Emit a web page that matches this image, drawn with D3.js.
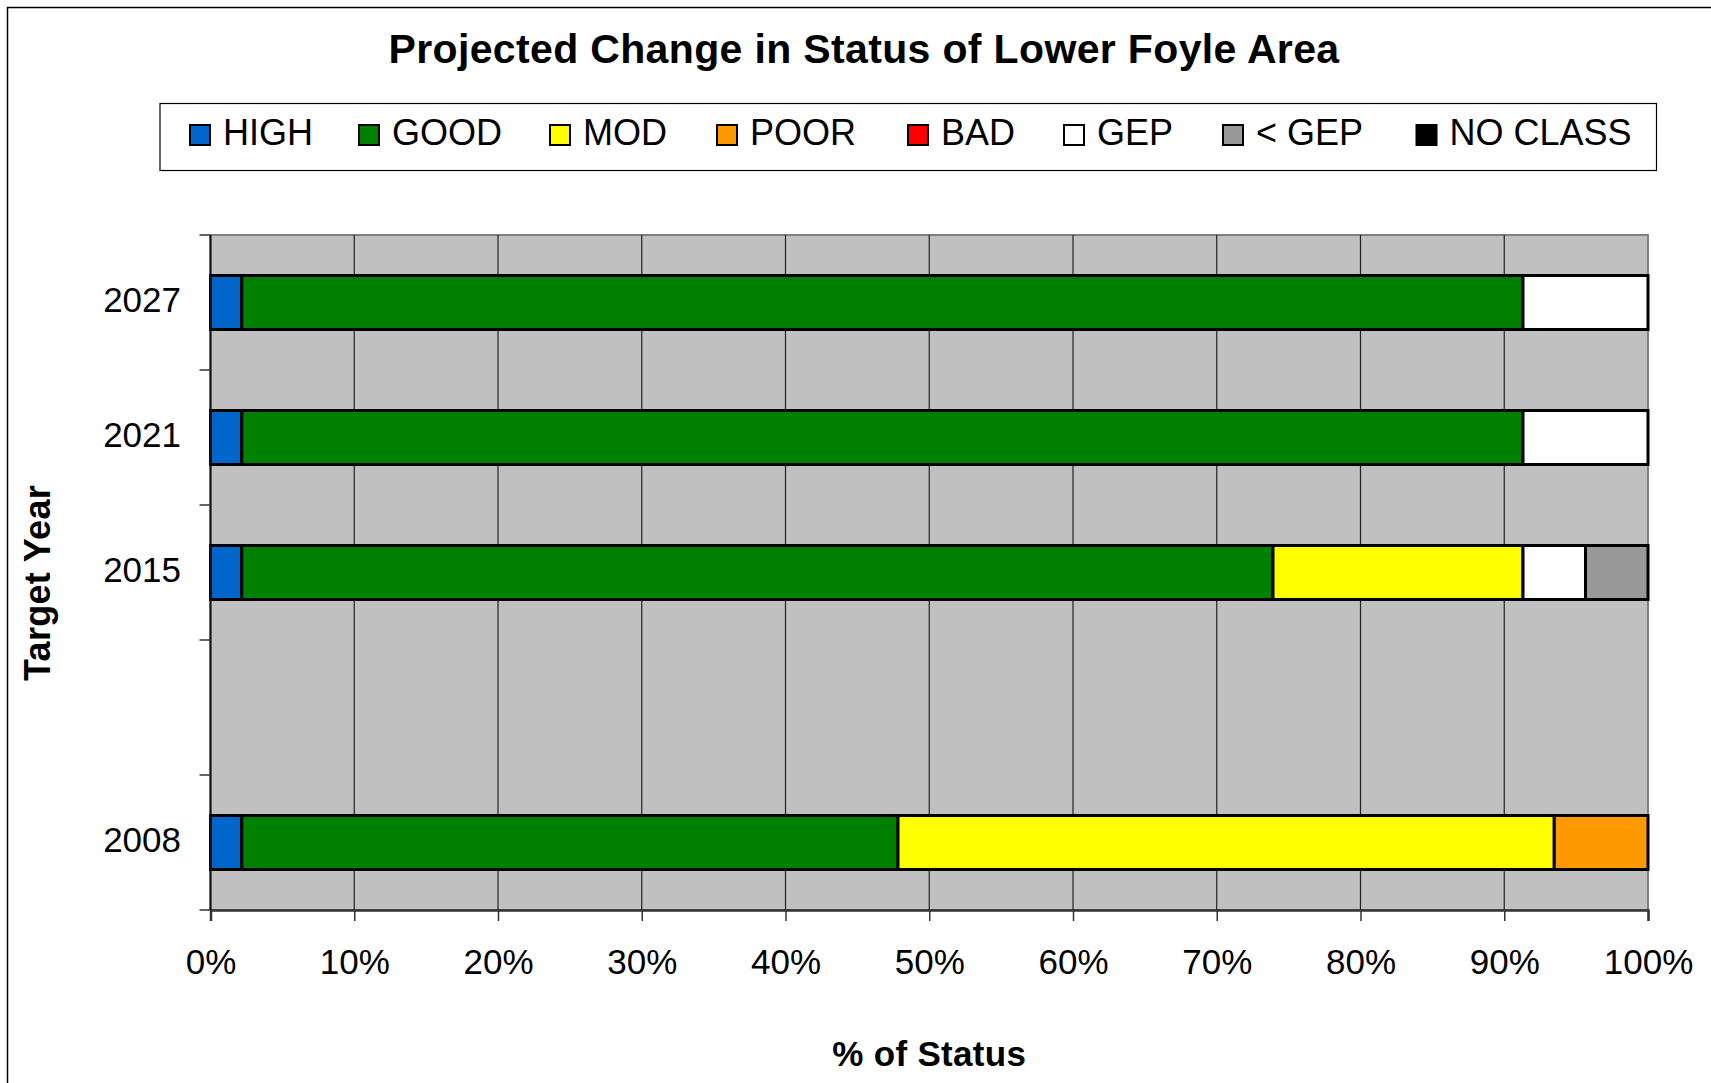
<!DOCTYPE html>
<html>
<head>
<meta charset="utf-8">
<script src="https://cdn.jsdelivr.net/npm/d3@7"></script>
<style>
  body { margin: 0; background: #fff; }
  text { font-family: "Liberation Sans", Arial, sans-serif; }
</style>
</head>
<body>
<svg id="chart" width="1711" height="1083"></svg>
<script>
// --- Data (number of water bodies per status, 100% stacked) ---
const years = ["2008", "", "2015", "2021", "2027"];
const statuses = ["HIGH", "GOOD", "MOD", "POOR", "BAD", "GEP", "< GEP", "NO CLASS"];
const colors = ["#0066cc", "#008000", "#ffff00", "#ff9900", "#ff0000", "#ffffff", "#999999", "#000000"];

const high    = [1, 0, 1, 1, 1];
const good    = [21, 0, 33, 41, 41];
const mod     = [21, 0, 8, 0, 0];
const poor    = [3, 0, 0, 0, 0];
const bad     = [0, 0, 0, 0, 0];
const gep     = [0, 0, 2, 4, 4];
const ltGep   = [0, 0, 2, 0, 0];
const noClass = [0, 0, 0, 0, 0];

const xTicks = [0, 0.1, 0.2, 0.3, 0.4, 0.5, 0.6, 0.7, 0.8, 0.9, 1];

// legend item x positions (layout)
const legendX = [190, 359, 550, 717, 908, 1064, 1223, 1416.5];

// build rows for d3.stack
const series = [high, good, mod, poor, bad, gep, ltGep, noClass];
const rows = years.map((y, i) => {
  const r = { year: y };
  statuses.forEach((s, j) => r[s] = series[j][i]);
  return r;
});

const svg = d3.select("#chart");
const W = 1711, H = 1083;
const plot = { left: 210.5, right: 1648, top: 235, bottom: 910 };

// outer chart border
svg.append("rect").attr("x", 7.5).attr("y", 7.5).attr("width", W).attr("height", H)
  .attr("fill", "#fff").attr("stroke", "#000").attr("stroke-width", 1.5);

// title
svg.append("text")
  .attr("x", 864).attr("y", 63)
  .attr("text-anchor", "middle")
  .style("font-size", "41px").style("font-weight", "bold")
  .style("letter-spacing", "0.35px")
  .text("Projected Change in Status of Lower Foyle Area");

// --- Scales ---
const x = d3.scaleLinear().domain([0, 1]).range([plot.left, plot.right]);
const y = d3.scaleBand().domain(years).range([plot.bottom, plot.top]).padding(0);

// plot background
svg.append("rect")
  .attr("x", plot.left).attr("y", plot.top)
  .attr("width", plot.right - plot.left).attr("height", plot.bottom - plot.top)
  .attr("fill", "#c0c0c0").attr("stroke", "#808080").attr("stroke-width", 2);

// vertical gridlines
svg.append("g").selectAll("line")
  .data(xTicks.slice(1, -1))
  .join("line")
  .attr("x1", d => x(d)).attr("x2", d => x(d))
  .attr("y1", plot.top).attr("y2", plot.bottom)
  .attr("stroke", "#222").attr("stroke-width", 1.2);

// --- Bars ---
const stack = d3.stack().keys(statuses).offset(d3.stackOffsetExpand);
const stacked = stack(rows);
const barH = y.bandwidth() * 0.4;

svg.append("g").selectAll("g")
  .data(stacked)
  .join("g")
  .attr("fill", (d, i) => colors[i])
  .selectAll("rect")
  .data(d => d.filter(p => p[1] - p[0] > 0))
  .join("rect")
  .attr("x", d => x(d[0]))
  .attr("width", d => x(d[1]) - x(d[0]))
  .attr("y", d => y(d.data.year) + y.bandwidth() * 0.3)
  .attr("height", barH)
  .attr("stroke", "#000").attr("stroke-width", 3);

// --- Axes ---
const xAxis = d3.axisBottom(x).tickValues(xTicks).tickFormat(d3.format(".0%")).tickSize(11).tickPadding(28);
const gx = svg.append("g").attr("transform", `translate(0,${plot.bottom})`).call(xAxis);
gx.select(".domain").attr("stroke", "#333").attr("stroke-width", 2.5);
gx.selectAll(".tick line").attr("stroke", "#333").attr("stroke-width", 1.5);
gx.selectAll(".tick text")
  .style("font-size", "35px").style("font-family", "'Liberation Sans', Arial, sans-serif")
  .attr("fill", "#000").attr("dy", "0.71em");

// y axis line + ticks at band boundaries
const gy = svg.append("g");
gy.append("line")
  .attr("x1", plot.left).attr("x2", plot.left)
  .attr("y1", plot.top).attr("y2", plot.bottom)
  .attr("stroke", "#111").attr("stroke-width", 2);
const bounds = years.map(d => y(d)).concat([y(years[0]) + y.bandwidth()]);
gy.selectAll(".ytick")
  .data(bounds)
  .join("line")
  .attr("x1", plot.left - 11).attr("x2", plot.left)
  .attr("y1", d => d).attr("y2", d => d)
  .attr("stroke", "#333").attr("stroke-width", 1.5);
gy.selectAll(".ylabel")
  .data(years.filter(d => d !== ""))
  .join("text")
  .attr("x", 181)
  .attr("y", d => y(d) + y.bandwidth() / 2)
  .attr("dy", "0.28em")
  .attr("text-anchor", "end")
  .style("font-size", "35px")
  .text(d => d);

// axis titles
svg.append("text")
  .attr("x", (plot.left + plot.right) / 2).attr("y", 1066)
  .attr("text-anchor", "middle")
  .style("font-size", "35px").style("font-weight", "bold")
  .style("letter-spacing", "0.3px")
  .text("% of Status");

svg.append("text")
  .attr("transform", "translate(50,583) rotate(-90)")
  .attr("text-anchor", "middle")
  .style("font-size", "36px").style("font-weight", "bold")
  .style("letter-spacing", "0.3px")
  .text("Target Year");

// --- Legend ---
const legend = svg.append("g");
legend.append("rect")
  .attr("x", 160).attr("y", 103.5).attr("width", 1496.5).attr("height", 67)
  .attr("fill", "#fff").attr("stroke", "#000").attr("stroke-width", 1.2);

const items = legend.selectAll(".item")
  .data(statuses)
  .join("g")
  .attr("transform", (d, i) => `translate(${legendX[i]},0)`);
items.append("rect")
  .attr("x", 0).attr("y", 125).attr("width", 20).attr("height", 20)
  .attr("fill", (d, i) => colors[i]).attr("stroke", "#000").attr("stroke-width", 2);
items.append("text")
  .attr("x", 33).attr("y", 145)
  .style("font-size", "36px")
  .text(d => d);
</script>
</body>
</html>
